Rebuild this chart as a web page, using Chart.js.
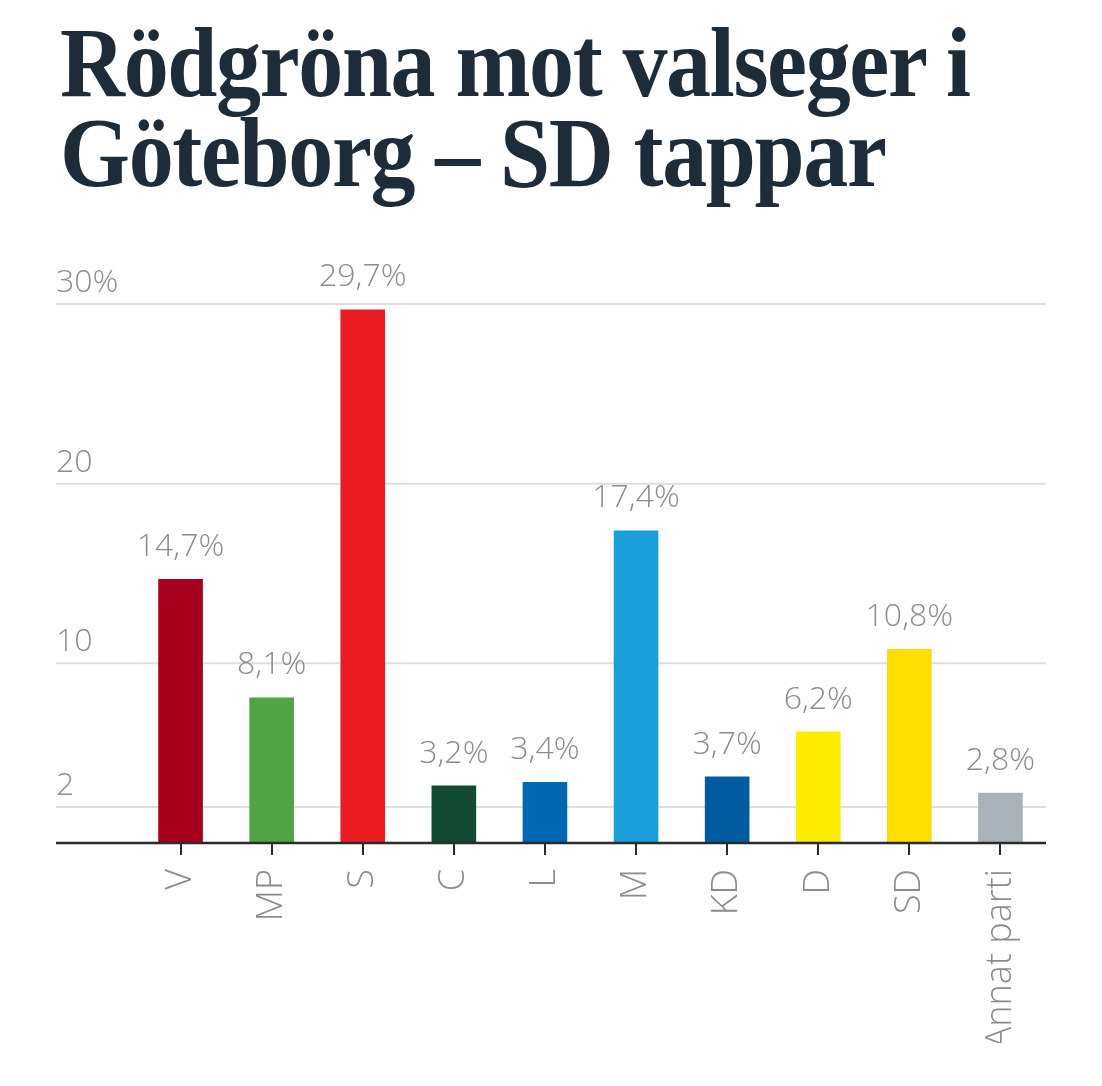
<!DOCTYPE html>
<html>
<head>
<meta charset="utf-8">
<script src="https://cdn.jsdelivr.net/npm/chart.js@4.4.1/dist/chart.umd.min.js"></script>
<style>
  html, body { margin: 0; padding: 0; background: #fff; }
  #wrap { position: relative; width: 1102px; height: 1086px; overflow: hidden; }
  h1 {
    position: absolute; left: 60px; top: 18px; margin: 0;
    font-family: "Liberation Serif", "DejaVu Serif", serif;
    font-weight: bold; font-size: 100px; line-height: 90px;
    letter-spacing: -1.5px; color: #1e2b38; white-space: nowrap;
    transform: scaleX(0.9); transform-origin: 0 0;
  }
  #chartBox { position: absolute; left: 0; top: 0; width: 1102px; height: 1086px; }
</style>
</head>
<body>
<div id="wrap">
  <h1>Rödgröna mot valseger i<br>Göteborg – SD tappar</h1>
  <div id="chartBox"><canvas id="chart"></canvas></div>
</div>
<script>
const parties = ["V", "MP", "S", "C", "L", "M", "KD", "D", "SD", "Annat parti"];
const shares = [14.7, 8.1, 29.7, 3.2, 3.4, 17.4, 3.7, 6.2, 10.8, 2.8];
const partyColors = ["#a6001e", "#52a343", "#ec1c24", "#124a34", "#0068b3", "#199fdb", "#005ba0", "#fdee00", "#fedd00", "#a8b2b8"];
const yTickValues = [2, 10, 20, 30];
const yTickLabels = ["2", "10", "20", "30%"];

const fontFamily = '"Open Sans", "DejaVu Sans", sans-serif';
const labelFont = '300 32px ' + fontFamily;
const gray = "#8c8c8c";

// gridlines + y labels start further left than the bars
const gridLeft = 56;

const gridPlugin = {
  id: "gridPlugin",
  beforeDatasetsDraw(chart) {
    const { ctx, chartArea, scales } = chart;
    ctx.save();
    ctx.strokeStyle = "#dedede";
    ctx.lineWidth = 2;
    ctx.fillStyle = gray;
    ctx.font = labelFont;
    ctx.textAlign = "left";
    ctx.textBaseline = "alphabetic";
    yTickValues.forEach((v, i) => {
      const y = scales.y.getPixelForValue(v);
      ctx.beginPath();
      ctx.moveTo(gridLeft, y);
      ctx.lineTo(chartArea.right, y);
      ctx.stroke();
      ctx.fillText(yTickLabels[i], gridLeft, y - 12);
    });
    ctx.restore();
  },
  afterDatasetsDraw(chart) {
    const { ctx, chartArea, scales } = chart;
    ctx.save();
    // baseline
    const y0 = scales.y.getPixelForValue(0);
    ctx.strokeStyle = "#2b2b2b";
    ctx.lineWidth = 2.5;
    ctx.beginPath();
    ctx.moveTo(gridLeft, y0);
    ctx.lineTo(chartArea.right, y0);
    ctx.stroke();
    // value labels
    ctx.fillStyle = gray;
    ctx.font = labelFont;
    ctx.textAlign = "center";
    const meta = chart.getDatasetMeta(0);
    meta.data.forEach((bar, i) => {
      ctx.fillText(shares[i].toFixed(1).replace(".", ",") + "%", bar.x, bar.y - 23);
    });
    ctx.restore();
  }
};

new Chart(document.getElementById("chart"), {
  type: "bar",
  data: {
    labels: parties,
    datasets: [{
      data: shares,
      backgroundColor: partyColors,
      borderWidth: 0,
      barPercentage: 0.49,
      categoryPercentage: 1
    }]
  },
  options: {
    responsive: true,
    maintainAspectRatio: false,
    animation: false,
    layout: { padding: { left: 135, right: 56, top: 304, bottom: 43 } },
    plugins: { legend: { display: false }, tooltip: { enabled: false } },
    scales: {
      x: {
        afterFit(scale) { scale.height = 200; },
        border: { display: false },
        grid: { offset: false, drawOnChartArea: false, drawTicks: true, tickLength: 12, color: "#2b2b2b", lineWidth: 2 },
        ticks: {
          color: gray,
          font: { family: fontFamily, size: 36, weight: 300 },
          minRotation: 90, maxRotation: 90, padding: 14, autoSkip: false
        }
      },
      y: {
        display: false,
        min: 0, max: 30
      }
    }
  },
  plugins: [gridPlugin]
});
</script>
</body>
</html>
